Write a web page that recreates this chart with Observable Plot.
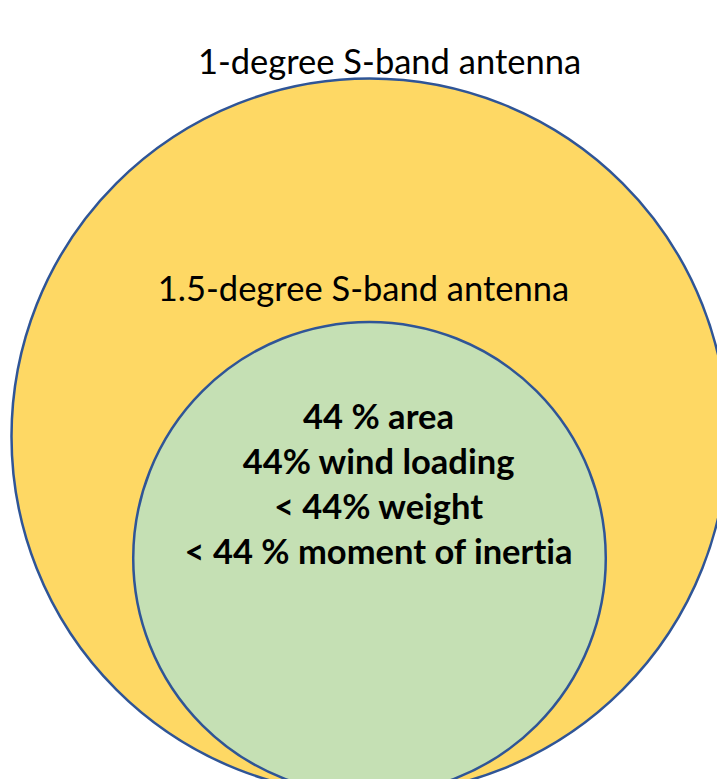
<!DOCTYPE html>
<html><head><meta charset="utf-8">
<script src="https://cdn.jsdelivr.net/npm/d3@7"></script>
<script src="https://cdn.jsdelivr.net/npm/@observablehq/plot@0.6"></script>
<style>body{margin:0;background:#fff;overflow:hidden} svg{display:block} svg text{font-variant-ligatures:none;font-feature-settings:"liga" 0,"clig" 0}</style>
</head><body><div id="chart"></div>
<script>
// Antennas and their relative dish diameters (1.5-degree dish ≈ 0.66 of the 1-degree dish → 44 % area)
const antennas = ["1-degree S-band antenna", "1.5-degree S-band antenna"];
const relativeDiameter = [1, 0.66];
const fills = ["#FED864", "#C5E0B4"];
const innerNotes = ["44 % area", "44% wind loading", "< 44% weight", "< 44 % moment of inertia"];

const data = antennas.map((name, i) => ({name, d: relativeDiameter[i]}));
const notes = [{text: innerNotes.join("\n"), d: relativeDiameter[1]}];
const FONT = "Lato, 'Open Sans', sans-serif";

const plot = Plot.plot({
  width: 717, height: 779,
  marginLeft: 21, marginRight: 0, marginTop: 0, marginBottom: 0,
  style: {background: "#fff", fontFamily: FONT, overflow: "hidden"},
  y: {axis: null, domain: [0, 2], range: [794, 78]},
  r: {type: "linear", domain: [0, 1], range: [0, 358]},
  color: {domain: antennas, range: fills},
  marks: [
    Plot.dot(data, {y: "d", r: "d", fill: "name", stroke: "#2F5597", strokeWidth: 2.5, fillOpacity: 1, frameAnchor: "middle", sort: null}),
    Plot.text([data[0]], {y: d => 2 * d.d, text: "name", frameAnchor: "middle", fontSize: 34.5, fill: "#000", dx: 20, dy: -16, lineAnchor: "middle"}),
    Plot.text([data[1]], {y: d => 2 * d.d, text: "name", frameAnchor: "middle", fontSize: 34.5, fill: "#000", dx: -6, dy: -32, lineAnchor: "middle"}),
    Plot.text(notes, {y: "d", text: "text", frameAnchor: "middle", fontSize: 34.5, fontWeight: "bold", fill: "#000", lineHeight: 1.304, dx: 9, dy: -76, lineAnchor: "middle"})
  ]
});
document.getElementById("chart").appendChild(plot);
</script>
</body></html>
